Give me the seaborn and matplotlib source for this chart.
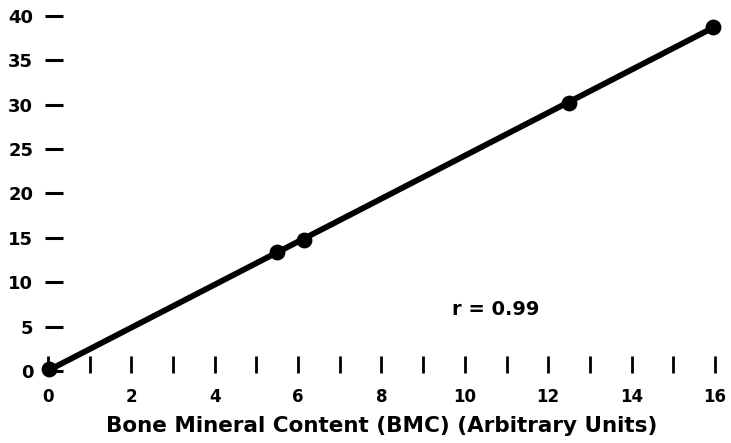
import matplotlib
matplotlib.use("Agg")
import matplotlib.pyplot as plt
import seaborn as sns
import numpy as np
import pandas as pd

# Data
bmc = [0.03, 5.5, 6.15, 12.5, 15.95]
yvals = [0.2, 13.4, 14.8, 30.2, 38.8]
x_ticks = list(range(0, 17))
x_tick_labels = [str(v) if v % 2 == 0 else "" for v in x_ticks]
y_ticks = [0, 5, 10, 15, 20, 25, 30, 35, 40]
y_tick_labels = [str(v) for v in y_ticks]
x_label = "Bone Mineral Content (BMC) (Arbitrary Units)"
annotation = "r = 0.99"

sns.set_theme(style="white")
plt.rcParams["font.family"] = ["DejaVu Sans"]
plt.rcParams["font.weight"] = "bold"

df = pd.DataFrame({"bmc": bmc, "y": yvals})

fig = plt.figure(figsize=(7.31, 4.43), dpi=100)
ax = fig.add_axes([0.05425, 0.1526, 0.93522, 0.8314])

sns.regplot(data=df, x="bmc", y="y", ax=ax, ci=None, color="black",
            scatter_kws={"s": 130, "clip_on": False, "zorder": 3,
                         "linewidths": 0, "alpha": 1},
            line_kws={"linewidth": 4.2, "solid_capstyle": "butt"})

ax.set_xlim(-0.2, 16.2)
ax.set_ylim(-0.5, 41)

for s in ["top", "right"]:
    ax.spines[s].set_visible(False)
ax.spines["left"].set_position(("data", 0.156))
ax.spines["left"].set_visible(False)
ax.spines["bottom"].set_position(("data", -0.2))
ax.spines["bottom"].set_visible(False)

ax.set_xticks(x_ticks)
ax.set_xticklabels(x_tick_labels, fontsize=12, fontweight="bold")
ax.set_yticks(y_ticks)
ax.set_yticklabels(y_tick_labels, fontsize=13, fontweight="bold")

ax.tick_params(axis="y", direction="inout", length=13.5, width=2.2, pad=8.6,
               colors="black", left=True)
ax.tick_params(axis="x", direction="in", length=12.2, width=2.0, pad=11,
               colors="black", bottom=True)

ax.set_xlabel(x_label, fontsize=15.5, fontweight="bold", labelpad=7.5,
              color="black")
ax.set_ylabel("")

ax.text(9.69, 6.9, annotation, fontsize=14, fontweight="bold",
        ha="left", va="center", color="black")

fig.savefig("out.png", dpi=100)
